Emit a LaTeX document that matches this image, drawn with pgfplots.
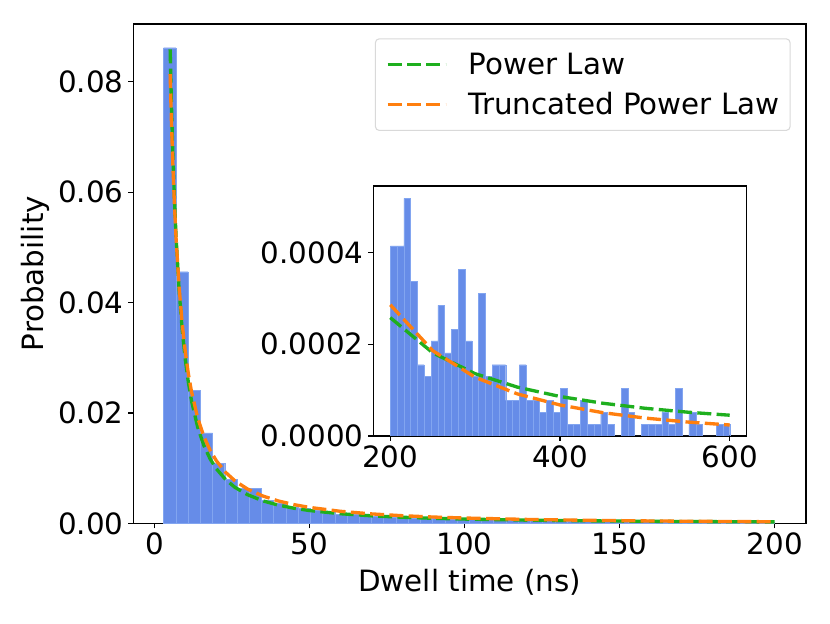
\documentclass[border=0pt]{standalone}
\usepackage{pgfplots}
\pgfplotsset{compat=1.18}
\usepackage{fontspec}
\setmainfont{DejaVu Sans}
\definecolor{barblue}{RGB}{102,140,232}
\definecolor{baredge}{RGB}{130,165,240}
\definecolor{plgreen}{RGB}{30,175,30}
\definecolor{tplorange}{RGB}{255,127,14}
\newcommand{\ff}{\fontsize{22}{26}\selectfont}
\begin{document}
\begin{tikzpicture}
\useasboundingbox (-100pt,-74.8pt) rectangle (522.5pt,392.5pt);
\pgfplotsset{
  every axis/.append style={
    scale only axis,
    axis line style={line width=0.8pt},
    tick style={line width=0.8pt,black},
    tick align=outside,
    major tick length=3.75pt,
    xtick pos=bottom, ytick pos=left,
    tick label style={font=\ff},
    label style={font=\ff},
    /pgf/number format/assume math mode=true,
    scaled y ticks=false,
    scaled x ticks=false,
  },
  fitline/.style={line width=2.5pt, dash pattern=on 10.5pt off 4pt},
}
\begin{axis}[
  name=main,
  at={(0,0)}, anchor=south west,
  width=504.5pt, height=374.5pt,
  xmin=-6.77, xmax=210.1, ymin=0, ymax=0.0905,
  xtick={0,50,100,150,200},
  ytick={0,0.02,0.04,0.06,0.08},
  yticklabel style={/pgf/number format/.cd,fixed,fixed zerofill,precision=2},
  xlabel={Dwell time (ns)},
  ylabel={Probability},
  xlabel style={at={(axis description cs:0.5,-0.1176)},anchor=center},
  ylabel style={at={(axis description cs:-0.146,0.5)},anchor=center,rotate=0},
  legend style={at={(axis description cs:0.9772,0.9714)},anchor=north east,
    draw=black!15, line width=0.8pt, rounded corners=3pt, fill=white,
    font=\ff, inner xsep=8pt, inner ysep=10.5pt, row sep=12pt,
    nodes={inner sep=0pt},
    /tikz/every odd column/.append style={column sep=16pt}},
  legend cell align=left,
  legend image code/.code={\draw[#1] (0pt,0pt) -- (43.5pt,0pt);},
]
\addplot[ybar interval, fill=barblue, draw=baredge, line width=0.3pt, forget plot] coordinates {
(3.00,0.0862) (6.94,0.0456) (10.88,0.0241) (14.82,0.0164) (18.76,0.0109)
(22.70,0.0080) (26.64,0.0064) (30.58,0.0063) (34.52,0.0042) (38.46,0.0036)
(42.40,0.0030) (46.34,0.0027) (50.28,0.0024) (54.22,0.0021) (58.16,0.0016)
(62.10,0.0016) (66.04,0.0014) (69.98,0.0013) (73.92,0.0011) (77.86,0.0011)
(81.80,0.00100) (85.74,0.00095) (89.68,0.00088) (93.62,0.00080) (97.56,0.00078)
(101.50,0.00072) (105.44,0.00066) (109.38,0.00063) (113.32,0.00060) (117.26,0.00055)
(121.20,0.00050) (125.14,0.00050) (129.08,0.00046) (133.02,0.00044) (136.96,0.00040)
(140.90,0.00040) (144.84,0.00036) (148.78,0.00034) (152.72,0.00033) (156.66,0.00031)
(160.60,0.00030) (164.54,0.00029) (168.48,0.00036) (172.42,0.00034) (176.36,0.00026)
(180.30,0.00025) (184.24,0.00023) (188.18,0.00022) (192.12,0.00028) (196.06,0.00024)
(200.00,0.00024)
};
\addplot[plgreen, fitline] coordinates {
(5.1,0.0859) (5.5,0.07625) (6,0.06643) (6.5,0.05853) (7,0.05205) (8,0.04214) (9,0.03497)
(10,0.02960) (11,0.02546) (12,0.02217) (14,0.01737) (16,0.01406) (18,0.01167)
(20,0.00988) (23,0.00792) (26,0.00652) (30,0.00520) (35,0.00407) (40,0.00330)
(45,0.00274) (50,0.00232) (60,0.00174) (70,0.00136) (80,0.00110) (90,0.000914)
(100,0.000773) (120,0.000580) (140,0.000455) (160,0.000368) (180,0.000305) (200,0.000258)
};
\addlegendentry{Power Law}
\addplot[tplorange, fitline] coordinates {
(5.1,0.0814) (5.5,0.07309) (6,0.06453) (6.5,0.05755) (7,0.05175) (8,0.04273) (9,0.03607)
(10,0.03099) (11,0.02701) (12,0.02382) (14,0.01906) (16,0.01570) (18,0.01322)
(20,0.01134) (23,0.00923) (26,0.00770) (30,0.00623) (35,0.00495) (40,0.00405)
(45,0.00339) (50,0.00289) (60,0.00218) (70,0.00171) (80,0.00138) (90,0.00114)
(100,0.000962) (120,0.000710) (140,0.000545) (160,0.000430) (180,0.000348) (200,0.000286)
};
\addlegendentry{Truncated Power Law}
\end{axis}
\begin{axis}[
  at={(180pt,65.5pt)}, anchor=south west,
  width=280pt, height=187.5pt,
  axis background/.style={fill=white},
  xmin=180, xmax=620, ymin=0, ymax=0.000545,
  xtick={200,400,600},
  ytick={0,0.0002,0.0004},
  yticklabel style={/pgf/number format/.cd,fixed,fixed zerofill,precision=4},
]
\addplot[ybar interval, fill=barblue, draw=baredge, line width=0.3pt] coordinates {
(200,0.0004144) (208,0.0004144) (216,0.000518) (224,0.0003367) (232,0.0001554)
(240,0.0001295) (248,0.0002072) (256,0.0002849) (264,0.0001813) (272,0.0002331)
(280,0.0003626) (288,0.0002072) (296,0.0001295) (304,0.0003108) (312,0.0001295)
(320,0.0001554) (328,0.0001554) (336,0.0000777) (344,0.0000777) (352,0.0001554)
(360,0.0000777) (368,0.0000777) (376,0.0000518) (384,0.0000777) (392,0.0000518)
(400,0.0001036) (408,0.0000259) (416,0.0000259) (424,0.0000777) (432,0.0000259)
(440,0.0000259) (448,0.0000518) (456,0.0000259) (464,0) (472,0.0001036)
(480,0.0000518) (488,0) (496,0.0000259) (504,0.0000259) (512,0.0000259)
(520,0.0000518) (528,0.0000259) (536,0.0001036) (544,0) (552,0.0000518)
(560,0.0000259) (568,0) (576,0) (584,0.0000259) (592,0.0000259)
(600,0.0000259)
};
\addplot[plgreen, fitline] coordinates {
(200,0.000258) (250,0.0001813) (300,0.0001358) (350,0.0001064) (400,0.0000861)
(450,0.0000715) (500,0.0000605) (550,0.0000520) (600,0.0000453)
};
\addplot[tplorange, fitline] coordinates {
(200,0.000286) (250,0.000186) (300,0.000128) (350,0.0000916) (400,0.0000676)
(450,0.0000510) (500,0.0000391) (550,0.0000305) (600,0.0000240)
};
\end{axis}
\end{tikzpicture}
\end{document}
